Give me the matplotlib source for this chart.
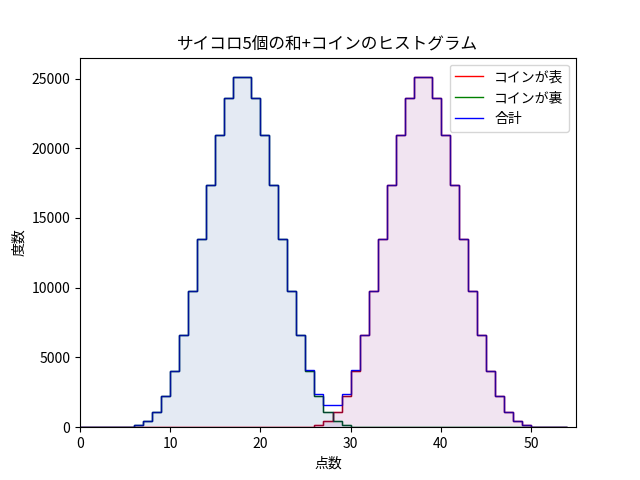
import matplotlib
matplotlib.use("Agg")
import matplotlib.pyplot as plt
import numpy as np

plt.rcParams['font.family'] = ['Noto Sans CJK JP', 'DejaVu Sans']

# bin edges 0..54, width 1
edges = np.arange(0, 55)

# counts (tails: sums 5..30, heads: sums 25..50)
tails_start = 5
tails_counts = [30, 160, 480, 1120, 2250, 4050, 6590, 9800, 13500, 17360, 20930,
                23630, 25080, 25080, 23630, 20930, 17360, 13500, 9800, 6590,
                4050, 2250, 1120, 480, 160, 30]
heads_start = 25
heads_counts = [30, 160, 480, 1120, 2250, 4050, 6590, 9800, 13500, 17360, 20930,
                23630, 25080, 25080, 23630, 20930, 17360, 13500, 9800, 6590,
                4050, 2250, 1120, 480, 160, 30]

heads = np.zeros(len(edges) - 1)
tails = np.zeros(len(edges) - 1)
heads[heads_start:heads_start + len(heads_counts)] = heads_counts
tails[tails_start:tails_start + len(tails_counts)] = tails_counts
total = heads + tails

fig, ax = plt.subplots(figsize=(6.4, 4.8), dpi=100)

ax.stairs(tails, edges, fill=True, color="#6a8fbf", alpha=0.18, lw=0)
ax.stairs(heads, edges, fill=True, color="#b060b0", alpha=0.17, lw=0)

ax.stairs(heads, edges, color="red", lw=1, label="コインが表")
ax.stairs(tails, edges, color="green", lw=1, label="コインが裏")
ax.stairs(total, edges, color="blue", lw=1, label="合計")
# darken overlaps like the original
ax.stairs(tails, edges, color="#002050", lw=1, alpha=0.6)
ax.stairs(heads, edges, color="#500050", lw=1, alpha=0.6)

ax.set_xlim(0, 55)
ax.set_ylim(0, 26500)
ax.set_title("サイコロ5個の和+コインのヒストグラム")
ax.set_xlabel("点数")
ax.set_ylabel("度数")
ax.legend(loc="upper right")

fig.savefig("out.png")
